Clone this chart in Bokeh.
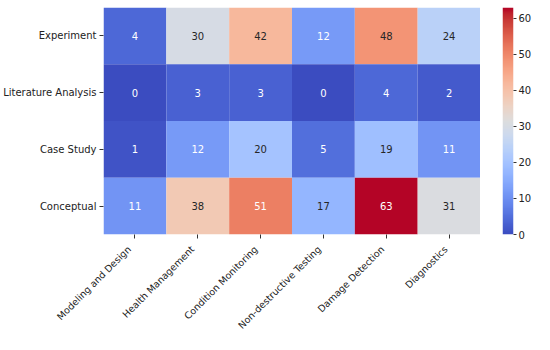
import numpy as np
from bokeh.plotting import figure
from bokeh.models import ColumnDataSource, LinearColorMapper, FixedTicker, Range1d
from bokeh.core.properties import value
from bokeh.layouts import row, column
from bokeh.embed import file_html
from bokeh.resources import INLINE

rows = ["Experiment", "Literature Analysis", "Case Study", "Conceptual"]
cols = ["Modeling and Design", "Health Management", "Condition Monitoring",
        "Non-destructive Testing", "Damage Detection", "Diagnostics"]
experiment = [4, 30, 42, 12, 48, 24]
literature = [0, 3, 3, 0, 4, 2]
case_study = [1, 12, 20, 5, 19, 11]
conceptual = [11, 38, 51, 17, 63, 31]
colorbar_ticks = [0, 10, 20, 30, 40, 50, 60]

matrix = [experiment, literature, case_study, conceptual]
vmin, vmax = 0, max(max(r) for r in matrix)

# coolwarm (Moreland) control points
cw = [(59,76,192),(68,90,204),(77,104,215),(87,117,225),(98,130,234),(108,142,241),
      (119,154,247),(130,165,251),(141,176,254),(152,185,255),(163,194,255),(174,201,253),
      (184,208,249),(194,213,244),(204,217,238),(213,219,230),(221,221,221),(229,216,209),
      (236,211,197),(241,204,184),(245,196,172),(247,187,160),(247,177,148),(247,166,135),
      (244,154,123),(241,141,111),(236,127,99),(229,112,88),(222,96,77),(213,80,66),
      (203,62,56),(192,40,47),(180,4,38)]
cw = np.array(cw, dtype=float)
kp = np.linspace(0, 1, len(cw))
t = np.linspace(0, 1, 256)
pal_rgb = np.stack([np.interp(t, kp, cw[:, i]) for i in range(3)], axis=1)
palette = ["#%02x%02x%02x" % tuple(int(round(c)) for c in rgb) for rgb in pal_rgb]

def color_of(v):
    f = (v - vmin) / (vmax - vmin)
    return np.array([np.interp(f, kp, cw[:, i]) for i in range(3)]) / 255.0

def lum(rgb):
    lin = np.where(rgb <= 0.03928, rgb / 12.92, ((rgb + 0.055) / 1.055) ** 2.4)
    return 0.2126 * lin[0] + 0.7152 * lin[1] + 0.0722 * lin[2]

nr, nc = len(rows), len(cols)
xcent = [j + 0.5 for j in range(nc)]
ycent = [nr - i - 0.5 for i in range(nr)]

xs, ys, vals, txt, tcol = [], [], [], [], []
for i, rowvals in enumerate(matrix):
    for j, v in enumerate(rowvals):
        xs.append(xcent[j]); ys.append(ycent[i]); vals.append(v); txt.append(str(v))
        tcol.append("#262626" if lum(color_of(v)) > 0.408 else "#ffffff")

src = ColumnDataSource(dict(x=xs, y=ys, v=vals, t=txt, tc=tcol))
mapper = LinearColorMapper(palette=palette, low=vmin, high=vmax)

W, H = 534, 334
LEFT, FW = 100, 380          # heatmap frame left edge and width (px)
TOP, FH, BOT = 7, 227, 8     # top border, frame height, bottom border of heatmap figure
PH = TOP + FH + BOT
LH = H - PH                  # height of the rotated-label strip
FONT = "DejaVu Sans"
TXT = "#222222"

p = figure(width=LEFT + FW, height=PH, x_range=Range1d(0, nc), y_range=Range1d(0, nr),
           output_backend="svg", toolbar_location=None,
           min_border_left=LEFT, min_border_top=TOP, min_border_bottom=BOT,
           min_border_right=0)
p.rect(x="x", y="y", width=1, height=1, source=src,
       fill_color={"field": "v", "transform": mapper}, line_color=None)
p.text(x="x", y="y", text="t", source=src, text_color="tc",
       text_align="center", text_baseline="middle",
       text_font=value(FONT), text_font_size="10px")

p.outline_line_color = None
p.grid.grid_line_color = None
for ax in (p.xaxis, p.yaxis):
    ax.axis_line_color = None
    ax.major_tick_in = 0
    ax.major_tick_out = 4
    ax.major_tick_line_color = "#333333"
    ax.minor_tick_line_color = None
    ax.major_label_text_font = FONT
    ax.major_label_text_font_size = "10px"
    ax.major_label_text_color = TXT
    ax.major_label_standoff = 3
p.xaxis.ticker = FixedTicker(ticks=xcent)
p.yaxis.ticker = FixedTicker(ticks=ycent)
p.yaxis.major_label_overrides = {y: r for y, r in zip(ycent, rows)}
p.xaxis.major_label_overrides = {x: "" for x in xcent}
p.xaxis.major_label_text_font_size = "0px"
p.xaxis.major_label_standoff = 0

# colour bar as its own narrow figure
cb = figure(width=W - LEFT - FW, height=PH, x_range=Range1d(0, 1), y_range=Range1d(vmin, vmax),
            output_backend="svg", toolbar_location=None,
            x_axis_location=None, y_axis_location="right",
            min_border_left=22, min_border_right=20, min_border_top=TOP,
            min_border_bottom=BOT)
grad = np.linspace(vmin, vmax, 256).reshape(256, 1)
cb.image(image=[grad], x=0, y=vmin, dw=1, dh=vmax - vmin, color_mapper=mapper)
cb.outline_line_color = None
cb.grid.grid_line_color = None
cb.yaxis.ticker = FixedTicker(ticks=colorbar_ticks)
cb.yaxis.axis_line_color = None
cb.yaxis.major_tick_in = 0
cb.yaxis.major_tick_out = 3
cb.yaxis.major_tick_line_color = "#333333"
cb.yaxis.minor_tick_line_color = None
cb.yaxis.major_label_text_font = FONT
cb.yaxis.major_label_text_font_size = "10px"
cb.yaxis.major_label_text_color = TXT
cb.yaxis.major_label_standoff = 2

# strip below holding the rotated column labels, x scale aligned with heatmap columns
upx = FW / nc
lab = figure(width=W, height=LH, x_range=Range1d(-LEFT / upx, (W - LEFT) / upx),
             y_range=Range1d(-LH, 0), output_backend="svg", toolbar_location=None,
             x_axis_location=None, y_axis_location=None,
             min_border_left=0, min_border_right=0, min_border_top=0, min_border_bottom=0)
lab.outline_line_color = None
lab.grid.grid_line_color = None
lab.text(x=xcent, y=[-5] * nc, text=cols, angle=np.pi / 4, x_offset=-3,
         text_align="right", text_baseline="middle",
         text_font=value(FONT), text_font_size="9.5px", text_color=TXT)

layout = column(row(p, cb, spacing=0), lab, spacing=0)
open("out.html", "w").write(file_html(layout, INLINE))
